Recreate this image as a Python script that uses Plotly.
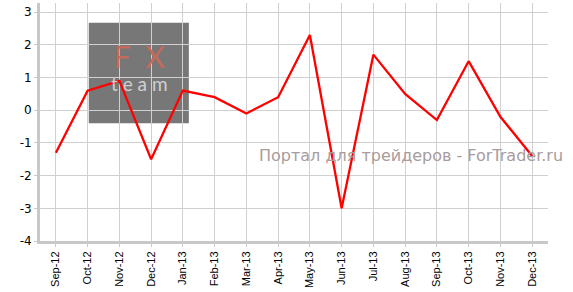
import plotly.graph_objects as go

months = ["Sep-12", "Oct-12", "Nov-12", "Dec-12", "Jan-13", "Feb-13", "Mar-13", "Apr-13",
          "May-13", "Jun-13", "Jul-13", "Aug-13", "Sep-13", "Oct-13", "Nov-13", "Dec-13"]
values = [-1.3, 0.6, 0.9, -1.5, 0.6, 0.4, -0.1, 0.4, 2.3, -3.0, 1.7, 0.5, -0.3, 1.5, -0.2, -1.4]
y_ticks = [3, 2, 1, 0, -1, -2, -3, -4]

fig = go.Figure()
fig.add_trace(go.Scatter(x=list(range(len(months))), y=values, mode="lines",
                         line=dict(color="#ff0000", width=2.3), hoverinfo="skip"))

fig.update_layout(
    width=573, height=292,
    margin=dict(l=40, r=25, t=3, b=51),
    plot_bgcolor="white", paper_bgcolor="white",
    showlegend=False,
    xaxis=dict(
        range=[-0.5, 15.5],
        tickmode="array", tickvals=list(range(len(months))), ticktext=months,
        tickangle=-90, tickfont=dict(family="Liberation Sans, Arial", size=11, color="#000"),
        showgrid=True, gridcolor="#d0d0d0", gridwidth=1,
        showline=True, linecolor="#c8c8c8", linewidth=3,
        ticks="outside", ticklen=3, tickcolor="#c8c8c8",
        zeroline=False,
    ),
    yaxis=dict(
        range=[-4, 3.28],
        tickmode="array", tickvals=y_ticks, ticktext=[str(v) for v in y_ticks],
        tickfont=dict(family="DejaVu Sans, Verdana", size=12, color="#000"),
        showgrid=True, gridcolor="#d0d0d0", gridwidth=1,
        showline=True, linecolor="#c8c8c8", linewidth=3,
        ticks="outside", ticklen=3, tickcolor="#c8c8c8",
        zeroline=False,
    ),
)

# watermark logo box
fig.add_shape(type="rect", xref="paper", yref="paper",
              x0=0.096, x1=0.293, y0=0.495, y1=0.917,
              fillcolor="#777777", line=dict(width=0), layer="below")
fig.add_annotation(xref="paper", yref="paper", x=0.195, y=0.735,
                   xanchor="center", yanchor="middle",
                   text="<span style='font-size:30px;color:#c46a5c'>F  X</span><br><span style='font-size:19px'>t e a m</span>",
                   showarrow=False,
                   font=dict(family="Lato", size=18, color="#d0d0d0"))

fig.add_annotation(xref="paper", yref="paper", x=1.033, y=0.36, xanchor="right",
                   text="Портал для трейдеров - ForTrader.ru", showarrow=False,
                   font=dict(family="DejaVu Sans", size=16, color="#a89c9c"))

fig.write_html("out.html")
